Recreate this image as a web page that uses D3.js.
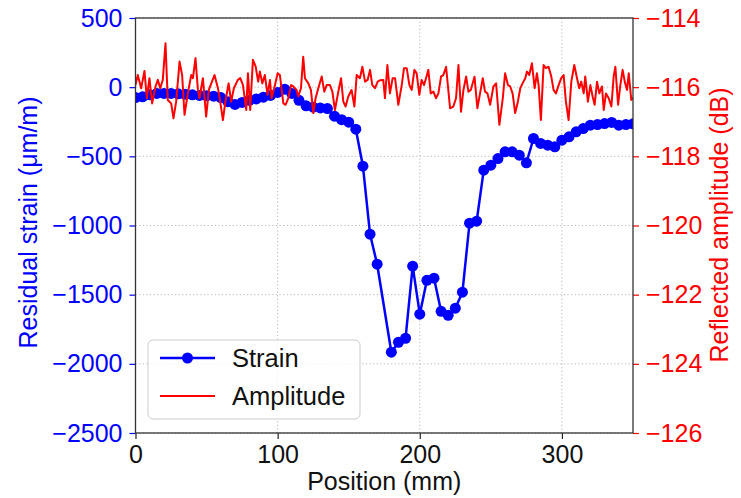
<!DOCTYPE html>
<html>
<head>
<meta charset="utf-8">
<script src="https://cdn.jsdelivr.net/npm/d3@7"></script>
<style>
  body { margin: 0; background: #fff; }
  text { font-family: "Liberation Sans", Arial, sans-serif; }
</style>
</head>
<body>
<div class="chart"></div>
<script>
// strain (left axis), every 5 mm, 175 missing
var strainPos = [0,5,10,15,20,25,30,35,40,45,50,55,60,65,70,75,80,85,90,95,100,105,110,115,120,125,130,135,140,145,150,155,160,165,170,180,185,190,195,200,205,210,215,220,225,230,235,240,245,250,255,260,265,270,275,280,285,290,295,300,305,310,315,320,325,330,335,340,345,350];
var strainVal = [-75,-70,-55,-45,-45,-45,-48,-52,-55,-60,-62,-65,-75,-105,-125,-110,-95,-85,-72,-60,-38,-15,-45,-95,-135,-145,-150,-155,-210,-235,-253,-304,-571,-1063,-1280,-1916,-1844,-1815,-1294,-1641,-1396,-1381,-1620,-1649,-1598,-1482,-983,-969,-600,-564,-516,-467,-467,-492,-547,-371,-407,-419,-431,-383,-359,-323,-299,-275,-270,-263,-255,-275,-270,-265];

// reflected amplitude (right axis)
var ampPos = [0,1.6,4.0,6.3,8.0,9.8,11.7,14.1,15.7,17.4,19.2,21.1,22.7,25.1,26.7,28.6,31.0,32.8,34.5,36.8,39.2,40.4,42.2,43.9,45.0,47.4,49.7,51.6,53.3,55.6,58.0,59.6,61.5,63.4,65.5,67.3,69.2,72.0,73.7,75.6,77.9,79.1,80.7,82.6,84.5,86.3,87.5,89.2,91.0,92.9,94.6,95.7,97.6,100.0,101.6,104.0,105.6,107.5,109.4,111.0,113.3,114.5,116.4,118.0,119.2,121.6,123.4,125.1,126.7,128.6,131.0,132.8,134.5,136.8,138.5,140.3,142.7,144.6,146.2,147.8,149.7,152.0,154.0,155.6,157.9,159.6,161.5,163.3,165.0,166.6,168.5,170.4,172.0,174.3,175.5,177.2,179.0,180.9,182.6,184.9,187.3,188.9,190.8,192.7,194.3,196.2,197.8,199.7,201.3,203.0,204.4,206.0,207.7,209.6,211.4,213.1,215.0,216.6,218.5,221.3,223.6,225.5,227.2,229.0,230.7,232.6,234.2,235.9,238.5,240.5,242.4,244.3,245.9,247.6,249.5,251.8,253.7,256.0,258.4,260.0,262.0,263.6,265.3,267.1,269.0,270.7,272.3,274.2,275.4,277.0,278.9,280.8,282.4,283.6,285.2,287.1,288.7,290.6,292.5,294.1,295.8,297.7,299.5,301.2,302.8,304.7,306.6,308.7,310.6,312.2,313.6,315.3,316.4,318.3,320.0,321.6,323.0,324.7,326.3,328.2,329.4,331.0,332.9,334.8,336.4,337.6,339.5,341.1,342.7,344.2,345.8,347.0,348.8,350.0];
var ampDb = [-115.94,-115.65,-116.03,-115.53,-116.32,-115.74,-116.47,-115.98,-115.79,-116.03,-115.79,-114.73,-116.37,-116.47,-116.90,-116.42,-115.26,-115.65,-116.80,-116.18,-115.65,-115.74,-115.16,-116.08,-116.32,-115.74,-116.85,-116.08,-115.89,-115.65,-116.03,-116.42,-116.95,-116.37,-115.89,-116.42,-116.03,-115.79,-115.74,-115.94,-116.66,-115.60,-116.66,-115.21,-115.40,-115.84,-115.55,-115.89,-115.65,-116.22,-115.79,-116.32,-116.03,-115.60,-115.65,-116.47,-116.51,-116.32,-115.94,-115.98,-116.08,-116.27,-116.03,-115.12,-115.74,-115.89,-116.08,-116.75,-116.32,-116.03,-115.69,-116.13,-115.94,-115.94,-116.13,-116.66,-116.13,-115.74,-116.42,-116.56,-116.27,-116.08,-116.56,-115.65,-115.74,-115.41,-115.84,-115.79,-115.50,-115.94,-116.03,-115.84,-115.80,-115.79,-116.32,-115.36,-116.18,-115.74,-115.74,-116.51,-115.94,-115.45,-115.45,-115.94,-116.08,-115.50,-115.60,-116.22,-115.79,-115.94,-115.74,-115.50,-116.18,-116.13,-116.32,-116.18,-115.69,-115.65,-115.41,-116.61,-116.56,-116.32,-115.36,-116.71,-116.08,-115.69,-116.13,-116.08,-115.70,-116.61,-116.18,-115.74,-116.13,-116.18,-116.51,-115.98,-115.89,-117.09,-116.32,-115.60,-115.94,-115.98,-116.18,-116.75,-116.42,-116.03,-115.89,-115.74,-115.55,-115.65,-115.31,-116.03,-115.60,-115.94,-116.95,-115.36,-115.45,-115.41,-115.69,-116.08,-116.18,-115.94,-115.74,-115.65,-116.42,-116.95,-115.84,-115.36,-115.74,-116.03,-115.84,-116.18,-115.69,-116.42,-115.94,-116.27,-116.51,-115.84,-116.18,-115.98,-116.66,-116.18,-116.32,-116.56,-115.69,-115.41,-116.51,-115.94,-115.50,-115.84,-116.08,-115.60,-116.37,-116.30];

var xTicks = [0, 100, 200, 300];
var yLeftTicks = [500, 0, -500, -1000, -1500, -2000, -2500];
var yRightTicks = [-114, -116, -118, -120, -122, -124, -126];

var width = 741, height = 498;
var plotL = 135.5, plotR = 633, plotT = 18, plotB = 433;
var blue = "#0000ff", red = "#ff0000";

var x = d3.scaleLinear().domain([0, 350]).range([plotL, plotR]);
var yL = d3.scaleLinear().domain([-2500, 500]).range([plotB, plotT]);
var yR = d3.scaleLinear().domain([-126, -114]).range([plotB, plotT]);

var svg = d3.select(".chart").append("svg")
    .attr("width", width)
    .attr("height", height);

svg.append("rect").attr("width", width).attr("height", height).attr("fill", "#fff");

svg.append("clipPath").attr("id", "plot")
  .append("rect")
    .attr("x", plotL).attr("y", plotT)
    .attr("width", plotR - plotL).attr("height", plotB - plotT);

// grid
var grid = svg.append("g").attr("stroke", "#b8b8b8").attr("stroke-width", 1)
    .attr("stroke-dasharray", "1.2,2.4");
grid.selectAll("line.gx").data(xTicks).enter().append("line")
    .attr("x1", function(d) { return x(d); }).attr("x2", function(d) { return x(d); })
    .attr("y1", plotT).attr("y2", plotB);
grid.selectAll("line.gy").data(yLeftTicks).enter().append("line")
    .attr("x1", plotL).attr("x2", plotR)
    .attr("y1", function(d) { return yL(d); }).attr("y2", function(d) { return yL(d); });

var fmt = function(d) { return d < 0 ? "\u2212" + Math.abs(d) : String(d); };

// strain line + markers
var strain = strainPos.map(function(p, i) { return [p, strainVal[i]]; });
var plot = svg.append("g").attr("clip-path", "url(#plot)");
plot.append("path")
    .datum(strain)
    .attr("fill", "none")
    .attr("stroke", blue)
    .attr("stroke-width", 2.5)
    .attr("stroke-linejoin", "round")
    .attr("d", d3.line().x(function(d) { return x(d[0]); }).y(function(d) { return yL(d[1]); }));
plot.selectAll("circle.pt").data(strain).enter().append("circle")
    .attr("class", "pt")
    .attr("cx", function(d) { return x(d[0]); })
    .attr("cy", function(d) { return yL(d[1]); })
    .attr("r", 5.5)
    .attr("fill", blue);

// amplitude line
var amp = ampPos.map(function(p, i) { return [p, ampDb[i]]; });
plot.append("path")
    .datum(amp)
    .attr("fill", "none")
    .attr("stroke", red)
    .attr("stroke-width", 2)
    .attr("stroke-linejoin", "round")
    .attr("d", d3.line().x(function(d) { return x(d[0]); }).y(function(d) { return yR(d[1]); }));

// axes
var axL = svg.append("g").attr("transform", "translate(" + plotL + ",0)")
    .call(d3.axisLeft(yL).tickValues(yLeftTicks).tickFormat(fmt).tickSize(6).tickPadding(7));
axL.select(".domain").remove();
axL.selectAll("line").attr("stroke", blue).attr("stroke-width", 1.2);
axL.selectAll("text").attr("fill", blue).style("font-size", "25px");

var axR = svg.append("g").attr("transform", "translate(" + plotR + ",0)")
    .call(d3.axisRight(yR).tickValues(yRightTicks).tickFormat(fmt).tickSize(6).tickPadding(7));
axR.select(".domain").remove();
axR.selectAll("line").attr("stroke", red).attr("stroke-width", 1.2);
axR.selectAll("text").attr("fill", red).style("font-size", "25px");

var axB = svg.append("g").attr("transform", "translate(0," + plotB + ")")
    .call(d3.axisBottom(x).tickValues(xTicks).tickFormat(fmt).tickSize(6).tickPadding(6));
axB.select(".domain").remove();
axB.selectAll("line").attr("stroke", "#222").attr("stroke-width", 1.2);
axB.selectAll("text").attr("fill", "#111").style("font-size", "25px");

// frame
svg.append("rect")
    .attr("x", plotL).attr("y", plotT)
    .attr("width", plotR - plotL).attr("height", plotB - plotT)
    .attr("fill", "none").attr("stroke", "#333").attr("stroke-width", 1.3);

// axis labels
svg.append("text")
    .attr("transform", "translate(37,222.5) rotate(-90)")
    .attr("text-anchor", "middle")
    .attr("fill", blue)
    .style("font-size", "25px")
    .text("Residual strain (\u03bcm/m)");
svg.append("text")
    .attr("transform", "translate(728,225) rotate(-90)")
    .attr("text-anchor", "middle")
    .attr("fill", red)
    .style("font-size", "25px")
    .text("Reflected amplitude (dB)");
svg.append("text")
    .attr("x", (plotL + plotR) / 2).attr("y", 490)
    .attr("text-anchor", "middle")
    .attr("fill", "#111")
    .style("font-size", "25px")
    .text("Position (mm)");

// legend
var leg = svg.append("g");
leg.append("rect")
    .attr("x", 148).attr("y", 340).attr("width", 212).attr("height", 79).attr("rx", 5)
    .attr("fill", "#fff").attr("fill-opacity", 0.8)
    .attr("stroke", "#cccccc").attr("stroke-width", 1);
var items = [{name: "Strain", color: blue, marker: true, y: 358},
             {name: "Amplitude", color: red, marker: false, y: 396}];
var it = leg.selectAll("g.item").data(items).enter().append("g").attr("class", "item");
it.append("line")
    .attr("x1", 160).attr("x2", 215)
    .attr("y1", function(d) { return d.y; }).attr("y2", function(d) { return d.y; })
    .attr("stroke", function(d) { return d.color; })
    .attr("stroke-width", function(d) { return d.marker ? 2.5 : 2; });
it.filter(function(d) { return d.marker; }).append("circle")
    .attr("cx", 187.5).attr("cy", function(d) { return d.y; }).attr("r", 5.5)
    .attr("fill", blue);
it.append("text")
    .attr("x", 232).attr("y", function(d) { return d.y + 9; })
    .attr("fill", "#111")
    .style("font-size", "25.5px")
    .text(function(d) { return d.name; });
</script>
</body>
</html>
